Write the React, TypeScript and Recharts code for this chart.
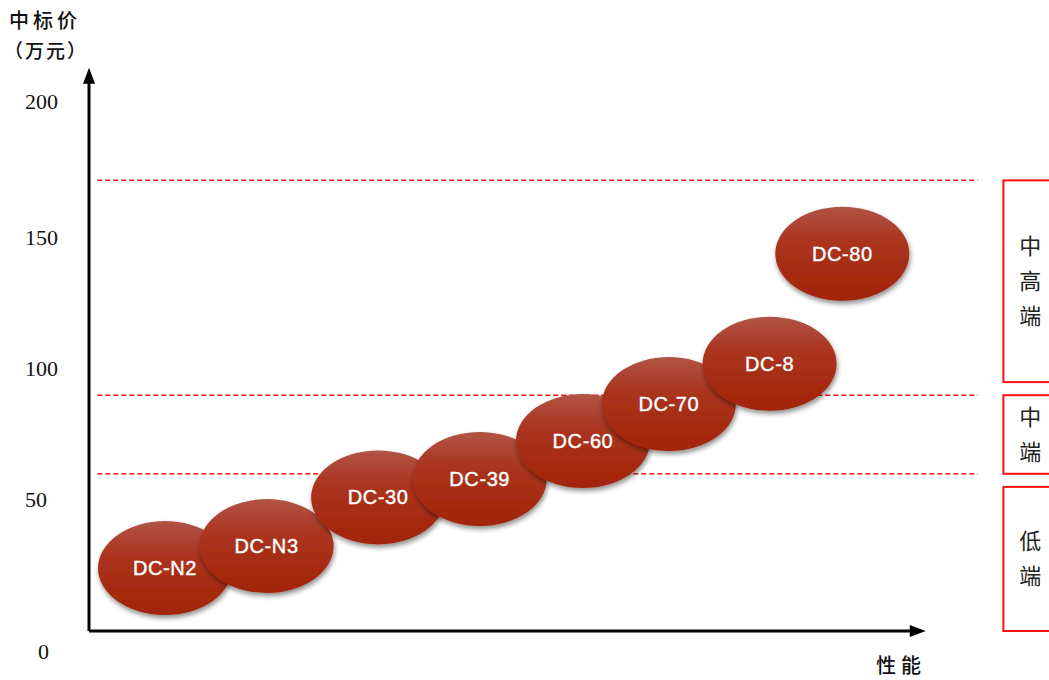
import {
  ReferenceArea,
  ReferenceDot,
  ReferenceLine,
  Scatter,
  ScatterChart,
  XAxis,
  YAxis,
} from "recharts";

const models = ["DC-N2", "DC-N3", "DC-30", "DC-39", "DC-60", "DC-70", "DC-8", "DC-80"];
const performance = [9.2, 21.5, 35, 47.3, 59.8, 70.2, 82.4, 91.2];
const bidPrice = [24, 32.4, 51, 58, 72.5, 86.6, 102, 144];
const yTicks = [0, 50, 100, 150, 200];
const tierLines = [60, 90, 172];
const tierNames = ["中高端", "中端", "低端"];
const tierLow = [95, 60, 0];
const tierHigh = [172, 90, 55];

const data = models.map((name, i) => ({ name, x: performance[i], y: bidPrice[i] }));

const CJK = '"Noto Sans CJK SC", sans-serif';

function Bubble(props: any) {
  const { cx, cy, payload } = props;
  return (
    <g>
      <ellipse cx={cx} cy={cy} rx={67} ry={47} fill="url(#bubbleFill)" filter="url(#bubbleShadow)" />
      <text
        x={cx}
        y={cy}
        dy={7}
        textAnchor="middle"
        fill="#fff"
        stroke="#fff"
        strokeWidth={0.4}
        fontSize={20}
        fontFamily='"Liberation Sans", Arial, sans-serif'
        letterSpacing={0.6}
      >
        {payload.name}
      </text>
    </g>
  );
}

function PriceTick(props: any) {
  const { y, payload } = props;
  const zero = payload.value === 0;
  const top = payload.value === 200;
  return (
    <text
      x={zero ? 38 : 25}
      y={y}
      dy={zero ? 28 : top ? 2 : 7}
      textAnchor="start"
      fill="#111"
      fontSize={22}
      fontFamily='"Liberation Serif", "DejaVu Serif", serif'
    >
      {payload.value}
    </text>
  );
}

function TierBox(props: any, label: string) {
  const { x, y, width, height } = props;
  const chars = label.split("");
  const midY = y + height / 2;
  const step = 35;
  const start = midY - ((chars.length - 1) * step) / 2;
  return (
    <g>
      <rect x={x} y={y} width={width} height={height} fill="#fff" stroke="#ff1010" strokeWidth={2} />
      {chars.map((c, i) => (
        <text
          key={i}
          x={x + 27}
          y={start + i * step}
          dy={8}
          textAnchor="middle"
          fontSize={22}
          fill="#222"
          fontFamily={CJK}
        >
          {c}
        </text>
      ))}
    </g>
  );
}

function ArrowUp(props: any) {
  const { cx, cy } = props;
  return <path d={`M${cx},${cy} L${cx - 6},${cy + 16} L${cx + 6},${cy + 16} Z`} fill="#000" />;
}

function ArrowRight(props: any) {
  const { cx, cy } = props;
  return <path d={`M${cx},${cy} L${cx - 16},${cy - 6} L${cx - 16},${cy + 6} Z`} fill="#000" />;
}

const headStyle = {
  position: "absolute" as const,
  fontFamily: CJK,
  fontWeight: 500,
  color: "#111",
  lineHeight: "20px",
  whiteSpace: "nowrap" as const,
};

export default function App() {
  return (
    <div style={{ position: "absolute", left: 0, top: 0, width: 1049, height: 680, background: "#fff", overflow: "hidden" }}>
      <div style={{ ...headStyle, left: 9, top: 10, fontSize: 20, letterSpacing: 4 }}>中标价</div>
      <div style={{ ...headStyle, left: 4, top: 40, fontSize: 19, letterSpacing: 2 }}>（万元）</div>
      <div style={{ ...headStyle, left: 876, top: 655, fontSize: 20, letterSpacing: 5 }}>性能</div>
      <ScatterChart width={1049} height={680} margin={{ top: 107, right: 134, bottom: 49, left: 0 }}>
        <defs>
          <linearGradient id="bubbleFill" x1="0" y1="0" x2="0" y2="1">
            <stop offset="0%" stopColor="#b15446" />
            <stop offset="35%" stopColor="#ab3520" />
            <stop offset="100%" stopColor="#a12407" />
          </linearGradient>
          <filter id="bubbleShadow" x="-20%" y="-20%" width="140%" height="150%">
            <feDropShadow dx="1" dy="3" stdDeviation="2.5" floodColor="#000" floodOpacity="0.45" />
          </filter>
        </defs>
        <XAxis type="number" dataKey="x" domain={[0, 100]} hide allowDataOverflow />
        <YAxis
          type="number"
          dataKey="y"
          domain={[0, 200]}
          ticks={yTicks}
          width={89}
          axisLine={false}
          tickLine={false}
          tick={PriceTick}
          allowDataOverflow
        />
        {tierLines.map((v) => (
          <ReferenceLine
            key={v}
            segment={[{ x: 1, y: v }, { x: 107.6, y: v }]}
            stroke="#ee1111"
            strokeWidth={1.5}
            strokeDasharray="5 3"
            ifOverflow="visible"
          />
        ))}
        {tierNames.map((name, i) => (
          <ReferenceArea
            key={name}
            x1={110.7}
            x2={118}
            y1={tierLow[i]}
            y2={tierHigh[i]}
            ifOverflow="visible"
            shape={(p: any) => TierBox(p, name)}
          />
        ))}
        <ReferenceLine segment={[{ x: 0, y: 0 }, { x: 0, y: 210 }]} stroke="#000" strokeWidth={3} ifOverflow="visible" />
        <ReferenceLine segment={[{ x: 0, y: 0 }, { x: 99.5, y: 0 }]} stroke="#000" strokeWidth={3} ifOverflow="visible" />
        <ReferenceDot x={0} y={215} ifOverflow="visible" shape={ArrowUp} />
        <ReferenceDot x={101.3} y={0} ifOverflow="visible" shape={ArrowRight} />
        <Scatter data={data} shape={Bubble} isAnimationActive={false} />
      </ScatterChart>
    </div>
  );
}
